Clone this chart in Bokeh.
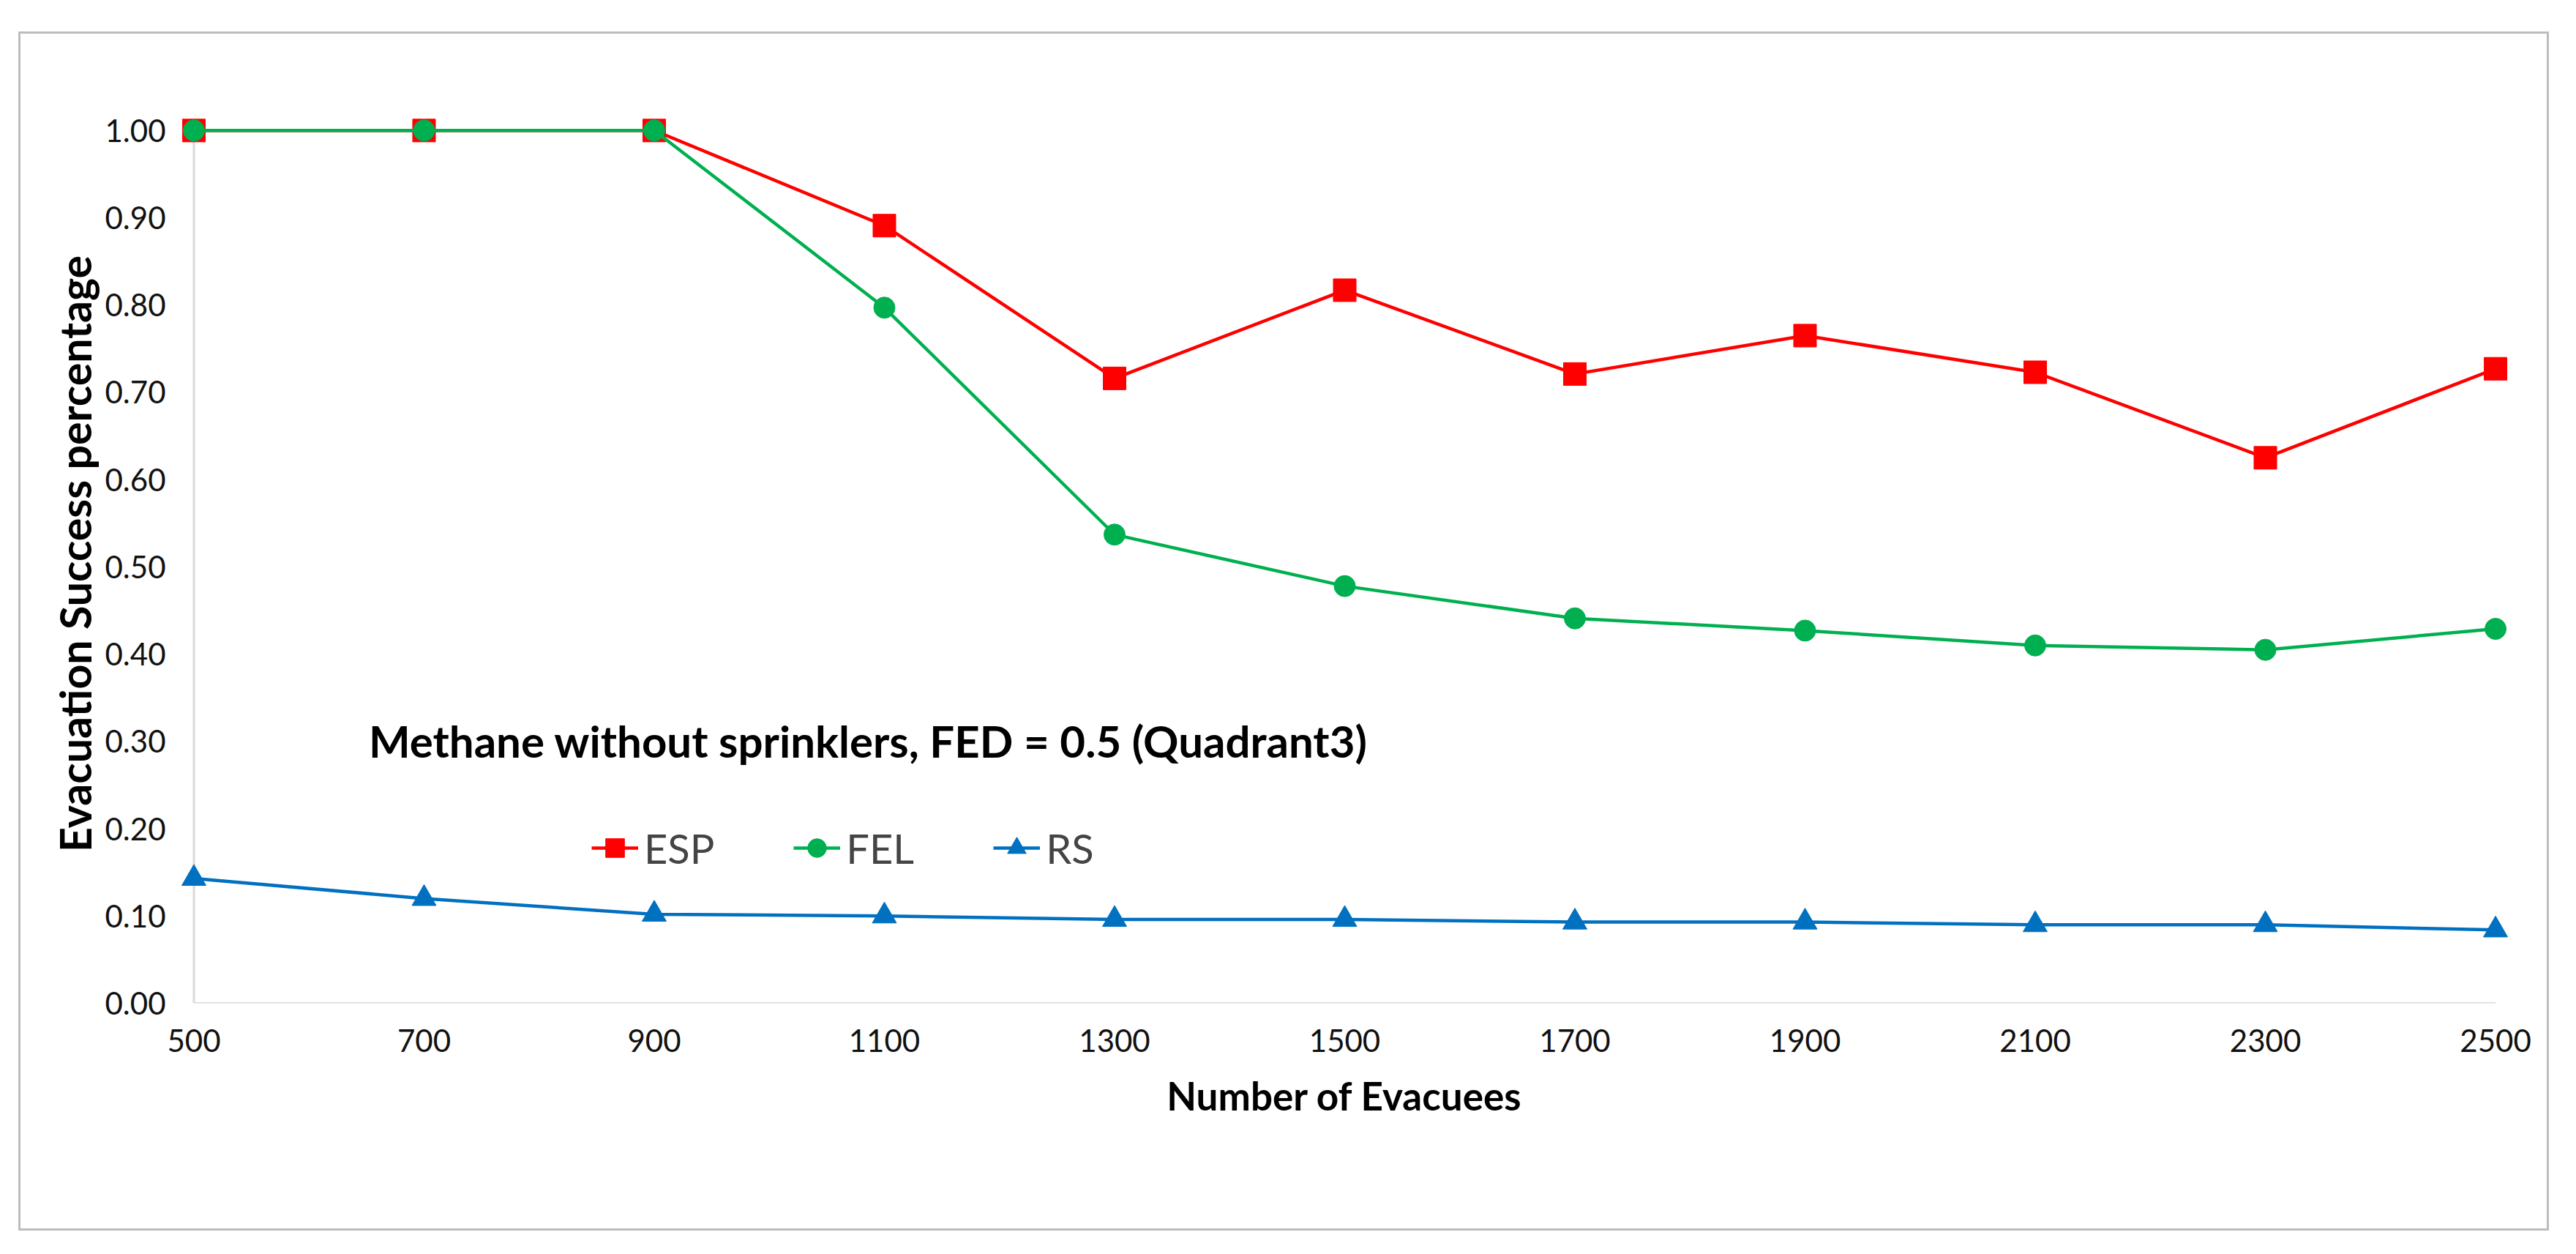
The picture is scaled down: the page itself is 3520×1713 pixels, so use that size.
from bokeh.plotting import figure
from bokeh.models import Range1d, FixedTicker, NumeralTickFormatter, Label, Legend, LegendItem
from bokeh.embed import file_html
from bokeh.resources import INLINE

evacuees = [500, 700, 900, 1100, 1300, 1500, 1700, 1900, 2100, 2300, 2500]
esp = [1.00, 1.00, 1.00, 0.891, 0.716, 0.817, 0.721, 0.765, 0.723, 0.625, 0.727]
fel = [1.00, 1.00, 1.00, 0.797, 0.537, 0.478, 0.441, 0.427, 0.410, 0.405, 0.429]
rs = [0.143, 0.120, 0.102, 0.100, 0.096, 0.096, 0.093, 0.093, 0.090, 0.090, 0.084]
x_ticks = [500, 700, 900, 1100, 1300, 1500, 1700, 1900, 2100, 2300, 2500]
y_ticks = [0.0, 0.1, 0.2, 0.3, 0.4, 0.5, 0.6, 0.7, 0.8, 0.9, 1.0]
series_names = ["ESP", "FEL", "RS"]
chart_note = "Methane without sprinklers, FED = 0.5 (Quadrant3)"
x_title = "Number of Evacuees"
y_title = "Evacuation Success percentage"

FONT = "Lato"

p = figure(width=3452, height=1632,
           x_range=Range1d(480, 2520), y_range=Range1d(0, 1.03),
           output_backend="svg", toolbar_location=None,
           min_border_left=205, min_border_right=39,
           min_border_top=96, min_border_bottom=308)
p.margin = (46, 0, 0, 28)
p.styles = {"outline": "3px solid #BDBDBD", "outline-offset": "0px"}
p.outline_line_color = None
p.background_fill_color = "white"
p.border_fill_color = "white"
p.xgrid.grid_line_color = None
p.ygrid.grid_line_color = None

# axis lines drawn from the tick extents
axis_col = "#D9D9D9"
p.segment(x0=[min(x_ticks)], y0=[min(y_ticks)], x1=[min(x_ticks)], y1=[max(y_ticks)],
          line_color=axis_col, line_width=3)
p.segment(x0=[min(x_ticks)], y0=[min(y_ticks)], x1=[max(x_ticks)], y1=[min(y_ticks)],
          line_color=axis_col, line_width=3)

for ax in (p.xaxis[0], p.yaxis[0]):
    ax.axis_line_color = None
    ax.major_tick_line_color = None
    ax.minor_tick_line_color = None
    ax.major_tick_in = 0
    ax.major_tick_out = 0
    ax.minor_tick_in = 0
    ax.minor_tick_out = 0
    ax.major_label_text_font = FONT
    ax.major_label_text_font_size = "42px"
    ax.major_label_text_color = "#111111"
    ax.axis_label_text_font = FONT
    ax.axis_label_text_font_style = "bold"
    ax.axis_label_text_color = "#000000"

p.xaxis.axis_label_text_font_size = "53px"
p.yaxis.axis_label_text_font_size = "59px"
p.xaxis.ticker = FixedTicker(ticks=x_ticks)
p.yaxis.ticker = FixedTicker(ticks=y_ticks)
p.yaxis.formatter = NumeralTickFormatter(format="0.00")
p.xaxis.major_label_standoff = 35
p.yaxis.major_label_standoff = 7
p.xaxis.axis_label = x_title
p.yaxis.axis_label = y_title
p.xaxis.axis_label_standoff = 25
p.yaxis.axis_label_standoff = 3

red = "#FF0000"
green = "#00B050"
blue = "#0070C0"

l1 = p.line(evacuees, esp, line_color=red, line_width=4.5)
s1 = p.scatter(evacuees, esp, marker="square", size=31, fill_color=red, line_color=red)
l2 = p.line(evacuees, fel, line_color=green, line_width=4.5)
s2 = p.scatter(evacuees, fel, marker="circle", size=29, fill_color=green, line_color=green)
l3 = p.line(evacuees, rs, line_color=blue, line_width=4.5)
s3 = p.scatter(evacuees, rs, marker="triangle", size=33, fill_color=blue, line_color=blue)

legend = Legend(items=[LegendItem(label=series_names[0], renderers=[l1, s1]),
                       LegendItem(label=series_names[1], renderers=[l2, s2]),
                       LegendItem(label=series_names[2], renderers=[l3, s3])],
                orientation="horizontal", location=(575, 178),
                glyph_width=64, glyph_height=68,
                label_text_font=FONT, label_text_font_size="56px",
                label_standoff=8, spacing=108, padding=0, margin=0,
                border_line_color=None, background_fill_alpha=0)
p.add_layout(legend)

note = Label(x=652, y=0.301, text=chart_note, text_font=FONT,
             text_font_style="bold", text_font_size="60px",
             text_baseline="middle", text_align="left", text_color="#000000")
p.add_layout(note)

open("out.html", "w").write(file_html(p, INLINE))
